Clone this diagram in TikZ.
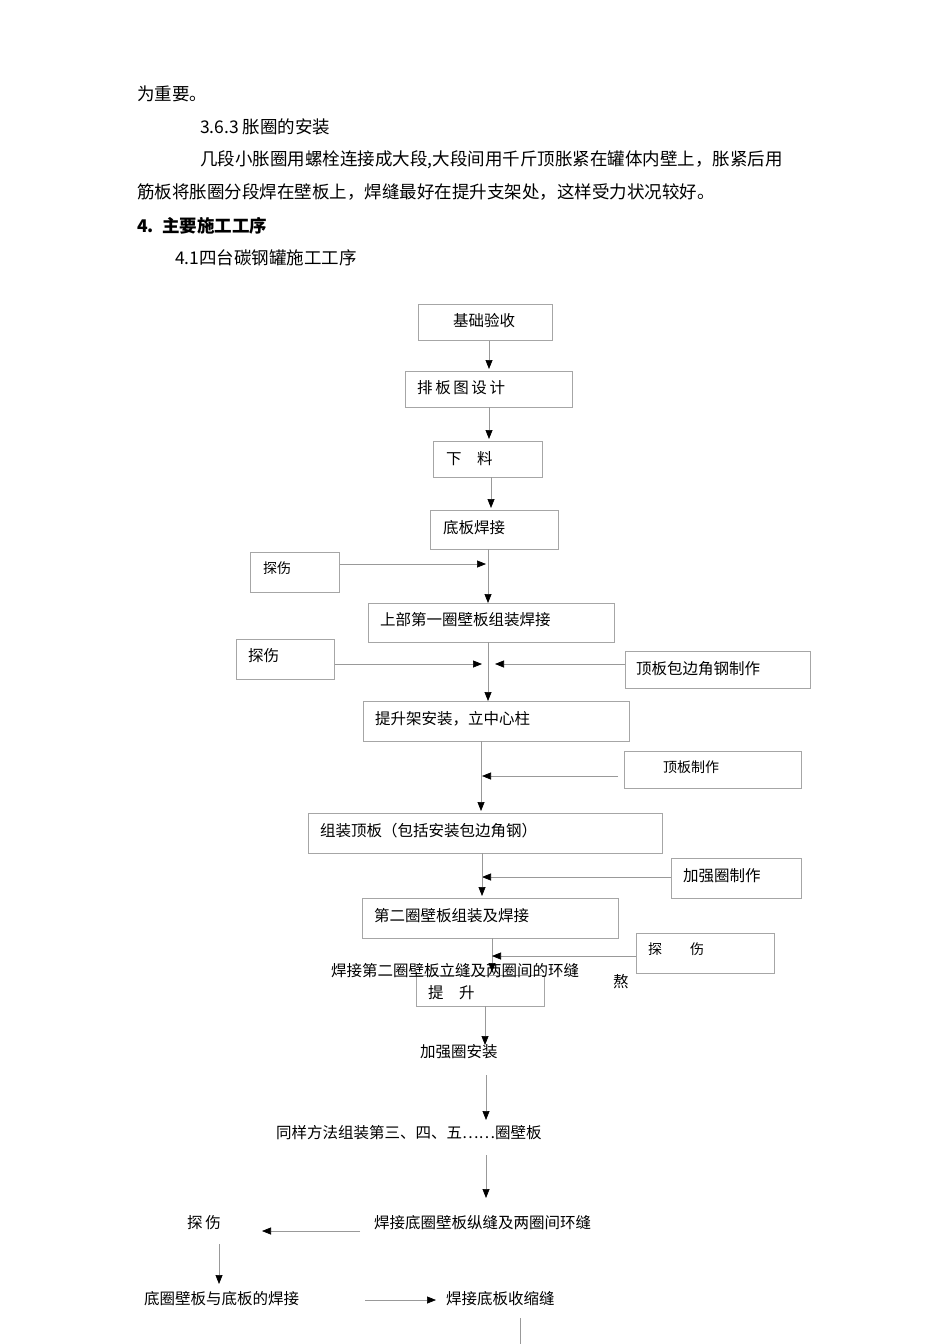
\documentclass[tikz,border=0pt]{standalone}
\usepackage{fontspec}
\setmainfont{Noto Sans CJK SC}
\usetikzlibrary{arrows.meta}
\begin{document}
\begin{tikzpicture}[x=1pt,y=-1pt,
  box/.style={draw=black!35,line width=0.8pt,anchor=north west,inner sep=0pt},
  lab/.style={anchor=west,inner sep=0pt,font=\fontsize{15.5}{18}\selectfont},
  txt/.style={anchor=west,inner sep=0pt,font=\fontsize{17.5}{20}\selectfont},
  arr/.style={draw=black!40,line width=0.7pt,-{Triangle[length=9pt,width=7pt,fill=black,color=black]}},
  ln/.style={draw=black!40,line width=0.7pt}]
\useasboundingbox (0,0) rectangle (950,1344);
\fill[white] (0,0) rectangle (950,1344);
% header text
\node[txt] (h1) at (137,94) {为重要。};
\node[txt] (h2) at (200,127) {3.6.3 胀圈的安装};
\node[txt] (h3) at (200,160) {几段小胀圈用螺栓连接成大段,大段间用千斤顶胀紧在罐体内壁上，胀紧后用};
\node[txt] (h4) at (137,192) {筋板将胀圈分段焊在壁板上，焊缝最好在提升支架处，这样受力状况较好。};
\node[txt,font=\fontsize{17.5}{20}\selectfont\bfseries] (h5) at (137,226) {4.\ \ 主要施工工序};
\node[txt] (h6) at (175,258) {4.1四台碳钢罐施工工序};
% boxes
\node[box,minimum width=134,minimum height=36] (b1) at (418,304) {};
\node[lab] at (453,321) {基础验收};
\node[box,minimum width=167,minimum height=36] (b2) at (405,371) {};
\node[lab] at (417,388) {排\,板\,图\,设\,计};
\node[box,minimum width=109,minimum height=36] (b3) at (433,441) {};
\node[lab] at (446,459) {下\quad 料};
\node[box,minimum width=128,minimum height=39] (b4) at (430,510) {};
\node[lab] at (443,528) {底板焊接};
\node[box,minimum width=89,minimum height=40] (t1) at (250,552) {};
\node[lab,font=\fontsize{14}{16}\selectfont] at (263,568) {探伤};
\node[box,minimum width=246,minimum height=39] (b5) at (368,603) {};
\node[lab] at (380,620) {上部第一圈壁板组装焊接};
\node[box,minimum width=98,minimum height=40] (t2) at (236,639) {};
\node[lab] at (248,656) {探伤};
\node[box,minimum width=185,minimum height=37] (b6) at (625,651) {};
\node[lab] at (636,669) {顶板包边角钢制作};
\node[box,minimum width=266,minimum height=40] (b7) at (363,701) {};
\node[lab] at (375,719) {提升架安装，立中心柱};
\node[box,minimum width=177,minimum height=37] (b8) at (624,751) {};
\node[lab,font=\fontsize{14}{16}\selectfont] at (663,767) {顶板制作};
\node[box,minimum width=354,minimum height=40] (b9) at (308,813) {};
\node[lab] at (320,831) {组装顶板（包括安装包边角钢）};
\node[box,minimum width=130,minimum height=40] (b10) at (671,858) {};
\node[lab] at (683,876) {加强圈制作};
\node[box,minimum width=256,minimum height=40] (b11) at (362,898) {};
\node[lab] at (374,916) {第二圈壁板组装及焊接};
\node[box,minimum width=138,minimum height=40] (t3) at (636,933) {};
\node[lab,font=\fontsize{14}{16}\selectfont] at (648,949) {探\qquad 伤};
\node[box,minimum width=128,minimum height=31] (b12) at (416,975) {};
\node[lab] at (428,993) {提\quad 升};
\node[lab] (l1) at (331,971) {焊接第二圈壁板立缝及两圈间的环缝};
\node[lab] (l2) at (613,982) {熬};
\node[lab] (l3) at (420,1052) {加强圈安装};
\node[lab] (l4) at (276,1133) {同样方法组装第三、四、五……圈壁板};
\node[lab] (l5) at (374,1223) {焊接底圈壁板纵缝及两圈间环缝};
\node[lab] (l6) at (187,1223) {探\,伤};
\node[lab] (l7) at (144,1299) {底圈壁板与底板的焊接};
\node[lab] (l8) at (446,1299) {焊接底板收缩缝};
% connectors
\coordinate (e1) at (489,369);
\draw[arr] (b1.south -| e1) -- (e1);
\draw[arr] (489,407) -- (489,439);
\draw[arr] (491,477) -- (491,508);
\draw[arr] (488,549) -- (488,603);
\draw[arr] (t1.east |- 0,564) -- (486,564);
\draw[arr] (t2.east |- 0,664) -- (482,664);
\draw[arr] (b6.west |- 0,664) -- (495,664);
\draw[arr] (488,642) -- (488,701);
\draw[arr] (481,741) -- (481,811);
\draw[arr] (618,776) -- (482,776);
\draw[arr] (b10.west |- 0,877) -- (482,877);
\draw[arr] (482,853) -- (482,896);
\draw[arr] (492,938) -- (492,972);
\draw[arr] (t3.west |- 0,956) -- (492,956);
\draw[arr] (485,1006) -- (485,1045);
\draw[arr] (486,1075) -- (486,1120);
\draw[arr] (486,1155) -- (486,1198);
\draw[arr] (360,1231) -- (262,1231);
\draw[arr] (219,1244) -- (219,1284);
\draw[arr] (365,1300) -- (436,1300);
\draw[ln] (520,1318) -- (520,1344);
\end{tikzpicture}
\end{document}
